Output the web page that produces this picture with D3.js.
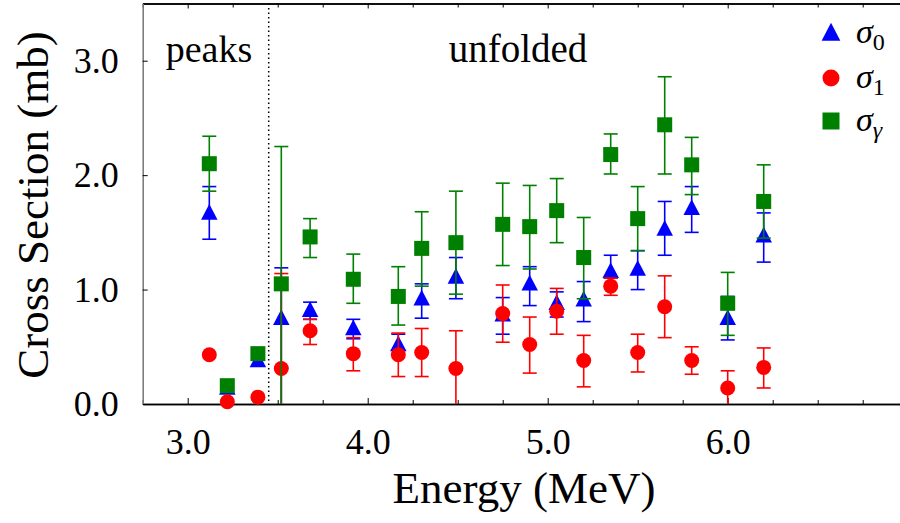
<!DOCTYPE html>
<html><head><meta charset="utf-8">
<script src="https://cdn.jsdelivr.net/npm/d3@7"></script>
<style>html,body{margin:0;padding:0;background:#fff;}svg{display:block;}</style>
</head><body>
<svg id="chart" width="900" height="523"></svg>
<script>
// ---- data ----
const energies = [3.12,3.22,3.39,3.52,3.68,3.92,4.17,4.30,4.49,4.75,4.90,5.05,5.20,5.35,5.50,5.65,5.80,6.00,6.20];
const sigma0   = [1.67,0.14,0.38,0.75,0.82,0.66,0.52,0.92,1.11,0.78,1.05,0.88,0.91,1.16,1.18,1.53,1.71,0.75,1.47];
const sigma0Lo = [1.44,null,null,0.00,0.74,0.57,0.47,0.75,0.92,0.61,0.86,0.76,0.72,1.10,1.00,1.30,1.50,0.56,1.24];
const sigma0Hi = [1.90,null,null,1.19,0.89,0.74,0.61,1.05,1.28,0.93,1.20,0.98,1.07,1.30,1.34,1.77,1.90,0.94,1.67];
const sigma1   = [0.43,0.02,0.06,0.31,0.64,0.44,0.43,0.45,0.31,0.79,0.52,0.81,0.38,1.03,0.45,0.85,0.38,0.14,0.32];
const sigma1Lo = [null,null,null,0.00,0.52,0.29,0.24,0.24,0.00,0.54,0.27,0.61,0.15,0.95,0.28,0.58,0.26,0.00,0.14];
const sigma1Hi = [null,null,null,1.14,0.74,0.58,0.62,0.66,0.64,1.04,0.76,1.01,0.60,1.10,0.61,1.12,0.50,0.29,0.49];
const sigmaG   = [2.10,0.16,0.44,1.05,1.46,1.09,0.94,1.36,1.41,1.57,1.55,1.69,1.28,2.18,1.62,2.44,2.09,0.88,1.77];
const sigmaGLo = [1.86,null,null,0.00,1.28,0.88,0.69,1.03,0.96,1.21,1.18,1.41,0.92,2.01,1.34,2.01,1.83,0.60,1.45];
const sigmaGHi = [2.34,null,null,2.25,1.62,1.31,1.20,1.68,1.86,1.93,1.91,1.97,1.63,2.36,1.90,2.86,2.33,1.15,2.09];
const xTickLabels = ["3.0","4.0","5.0","6.0"];
const yTickLabels = ["0.0","1.0","2.0","3.0"];
const dividerEnergy = 3.45;

// ---- layout ----
const svg = d3.select("#chart");
const FONT = "'Liberation Serif','Times New Roman',serif";
const padL = 142.7, padR = 907.7, padT = 3.5, padB = 404;
const x = d3.scaleLinear().domain([2.75, 7.0]).range([padL, padR]);
const y = d3.scaleLinear().domain([0, 3.5]).range([padB, padT]);

const g = svg.append("g");

// bottom axis (ticks inward)
const xMajor = xTickLabels.map(Number);
const xMinor = d3.range(2.75, 7.01, 0.25).filter(v => !xMajor.some(m => Math.abs(m - v) < 1e-6));
const bAxis = g.append("g").attr("transform", `translate(0,${padB})`);
bAxis.call(d3.axisBottom(x).tickValues(xMajor).tickSizeInner(-6).tickSizeOuter(0).tickFormat((d,i)=>xTickLabels[i]).tickPadding(24));
bAxis.append("g").call(d3.axisBottom(x).tickValues(xMinor).tickSizeInner(-4).tickSizeOuter(0).tickFormat(""));
bAxis.selectAll(".domain").attr("stroke", "#000").attr("stroke-width", 1.5);
bAxis.selectAll(".tick line").attr("stroke", "#000").attr("stroke-width", 1);
bAxis.selectAll(".tick text").attr("font-family", FONT).attr("font-size", 36).attr("fill", "#000").attr("dy", "0.71em");

// top axis
const tAxis = g.append("g").attr("transform", `translate(0,${padT})`);
tAxis.call(d3.axisTop(x).tickValues(xMajor).tickSizeInner(-5).tickSizeOuter(0).tickFormat(""));
tAxis.append("g").call(d3.axisTop(x).tickValues(xMinor).tickSizeInner(-4).tickSizeOuter(0).tickFormat(""));
tAxis.selectAll(".domain").attr("stroke", "#000").attr("stroke-width", 1.5);
tAxis.selectAll(".tick line").attr("stroke", "#000");

// left axis
const lAxis = g.append("g").attr("transform", `translate(${padL},0)`);
lAxis.call(d3.axisLeft(y).tickValues(yTickLabels.map(Number)).tickSizeInner(-5).tickSizeOuter(0).tickFormat((d,i)=>yTickLabels[i]).tickPadding(24));
lAxis.selectAll(".domain").attr("stroke", "#777").attr("stroke-width", 1.5);
lAxis.selectAll(".tick line").attr("stroke", "#000");
lAxis.selectAll(".tick text").attr("font-family", FONT).attr("font-size", 36).attr("fill", "#000");

// divider
g.append("line").attr("x1", x(dividerEnergy)).attr("x2", x(dividerEnergy))
  .attr("y1", padT).attr("y2", padB).attr("stroke", "#000").attr("stroke-width", 1.5)
  .attr("stroke-dasharray", "1.5,3");

// region labels
g.append("text").attr("x", 209).attr("y", 62).attr("text-anchor", "middle")
  .attr("font-family", FONT).attr("font-size", 38).text("peaks");
g.append("text").attr("x", 518).attr("y", 62).attr("text-anchor", "middle")
  .attr("font-family", FONT).attr("font-size", 39).text("unfolded");

// axis titles
g.append("text").attr("x", 524).attr("y", 503).attr("text-anchor", "middle")
  .attr("font-family", FONT).attr("font-size", 45).text("Energy (MeV)");
g.append("text").attr("transform", "translate(48,205) rotate(-90)").attr("text-anchor", "middle")
  .attr("font-family", FONT).attr("font-size", 45).text("Cross Section (mb)");

// ---- series ----
const series = [
  {name:"0", vals:sigma0, lo:sigma0Lo, hi:sigma0Hi, color:"#0000ff", shape:"tri"},
  {name:"1", vals:sigma1, lo:sigma1Lo, hi:sigma1Hi, color:"#ff0000", shape:"circ"},
  {name:"γ", vals:sigmaG, lo:sigmaGLo, hi:sigmaGHi, color:"#008000", shape:"sq"}
];
function drawMarker(sel, shape, cx, cy, s, color) {
  if (shape === "tri") {
    const w = s*1.1, h = s;
    sel.append("path").attr("d", `M${cx},${cy-h*0.6}L${cx+w/2},${cy+h*0.45}L${cx-w/2},${cy+h*0.45}Z`).attr("fill", color);
  } else if (shape === "circ") {
    sel.append("circle").attr("cx", cx).attr("cy", cy).attr("r", s/2).attr("fill", color);
  } else {
    sel.append("rect").attr("x", cx-s/2).attr("y", cy-s/2).attr("width", s).attr("height", s).attr("fill", color);
  }
}
const plot = g.append("g");
series.forEach(sr => {
  const sg = plot.append("g");
  energies.forEach((e, i) => {
    const cx = x(e);
    if (sr.lo[i] !== null && sr.hi[i] !== null) {
      const y1 = y(sr.lo[i]), y2 = y(sr.hi[i]);
      sg.append("line").attr("x1", cx).attr("x2", cx).attr("y1", y1).attr("y2", y2)
        .attr("stroke", sr.color).attr("stroke-width", 1.6);
      [sr.lo[i], sr.hi[i]].forEach(v => {
        if (v > 0) sg.append("line").attr("x1", cx-7).attr("x2", cx+7).attr("y1", y(v)).attr("y2", y(v))
          .attr("stroke", sr.color).attr("stroke-width", 1.6);
      });
    }
  });
  energies.forEach((e, i) => drawMarker(sg, sr.shape, x(e), y(sr.vals[i]), 15, sr.color));
});

// ---- legend ----
const legendY = [33, 78, 121];
series.forEach((sr, i) => {
  const lg = g.append("g");
  drawMarker(lg, sr.shape, 831, legendY[i], 17, sr.color);
  const t = lg.append("text").attr("x", 856).attr("y", legendY[i] + 10)
    .attr("font-family", FONT).attr("font-size", 34);
  t.append("tspan").attr("font-style", "italic").text("σ");
  t.append("tspan").attr("font-size", 24).attr("dy", 7).text(sr.name)
    .attr("font-style", sr.name === "γ" ? "italic" : "normal");
});
</script>
</body></html>
